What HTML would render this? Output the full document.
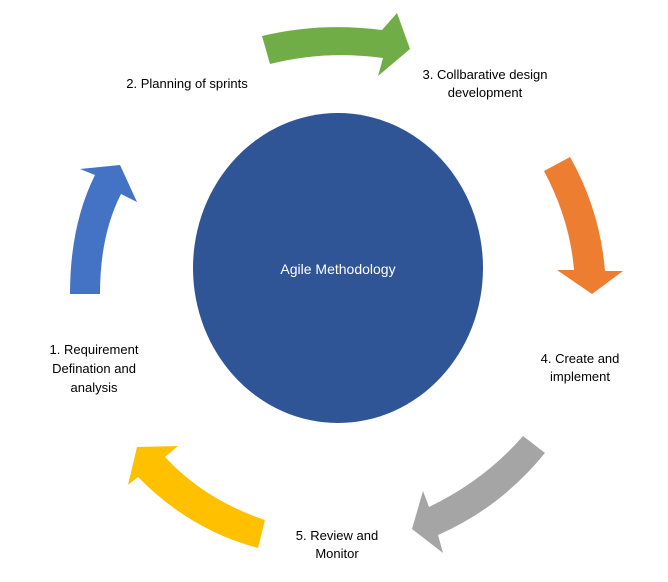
<!DOCTYPE html>
<html><head><meta charset="utf-8"><style>
html,body{margin:0;padding:0;background:#fff;}
svg{display:block;}
text{font-family:"Liberation Sans",sans-serif;font-size:13px;fill:#000;}
</style></head><body>
<svg width="668" height="582" viewBox="0 0 668 582" xmlns="http://www.w3.org/2000/svg">
<ellipse cx="338" cy="268" rx="145" ry="155" fill="#2f5597"/>
<path d="M262,36 Q320,22 382,30 L397,13 L410,49 L378,76 L383,58 Q325,50 270,64 Z" fill="#70ad47"/>
<path d="M70,294 Q70,225 95,175 L80,169 L120,165 L137,202 L121,194 Q100,235 100,294 Z" fill="#4472c4"/>
<path d="M544,171 L570,157 Q600,210 605,271 L623,271 L592,294 L557,270 L574,270 Q570,220 544,171 Z" fill="#ed7d31"/>
<path d="M523,436 L545,453 Q500,508 438,535 L443,553 L412,529 L423,491 L429,507 Q485,480 523,436 Z" fill="#a5a5a5"/>
<path d="M265,520 Q205,500 165,457 L178,446 L137,447 L128,485 L138,477 Q190,530 258,548 Z" fill="#ffc000"/>
<text x="338" y="274" text-anchor="middle" style="fill:#fff;font-size:14px">Agile Methodology</text>
<text x="187" y="88" text-anchor="middle">2. Planning of sprints</text>
<text x="485" y="79" text-anchor="middle">3. Collbarative design</text>
<text x="485" y="97" text-anchor="middle">development</text>
<text x="94" y="354" text-anchor="middle">1. Requirement</text>
<text x="94" y="373" text-anchor="middle">Defination and</text>
<text x="94" y="392" text-anchor="middle">analysis</text>
<text x="580" y="363" text-anchor="middle">4. Create and</text>
<text x="580" y="381" text-anchor="middle">implement</text>
<text x="337" y="540" text-anchor="middle">5. Review and</text>
<text x="337" y="558" text-anchor="middle">Monitor</text>
</svg>
</body></html>
